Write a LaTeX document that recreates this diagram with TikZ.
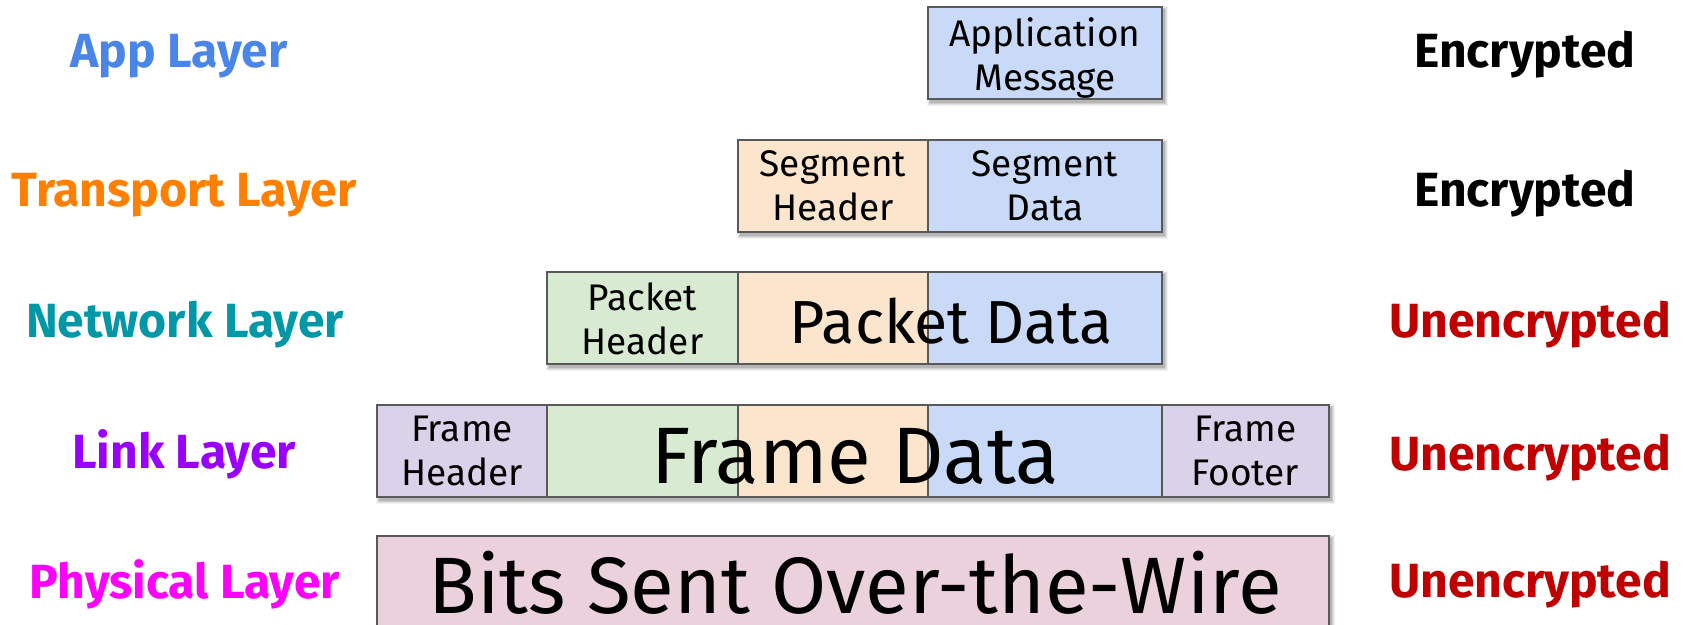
\documentclass[tikz,border=0pt]{standalone}
\usepackage{fontspec}
\setmainfont{Fira Sans}
\usetikzlibrary{calc,backgrounds}

\definecolor{boxblue}{HTML}{C9DAF8}
\definecolor{boxorange}{HTML}{FCE5CD}
\definecolor{boxgreen}{HTML}{D9EAD3}
\definecolor{boxpurple}{HTML}{D9D2E9}
\definecolor{boxpink}{HTML}{EAD1DC}
\definecolor{edgegray}{HTML}{595959}
\definecolor{appcol}{HTML}{4A86E8}
\definecolor{transcol}{HTML}{FF8000}
\definecolor{netcol}{HTML}{0097A7}
\definecolor{linkcol}{HTML}{9900FF}
\definecolor{physcol}{HTML}{FF00FF}
\definecolor{unenc}{HTML}{C00000}

% soft drop shadow under a row of cells, from its north west to its south east corner
\newcommand\rowshadow[2]{%
  \foreach \d/\o in {4/0.05,3/0.07,2/0.09,1/0.11}{%
    \fill[black,opacity=\o] ($(#1)+(4-\d,4-\d)$) rectangle ($(#2)+(1+\d,2+\d)$);
  }%
}

\begin{document}
\begin{tikzpicture}[x=0.5pt, y=-0.5pt,
  cell/.style={draw=edgegray, line width=1pt, inner sep=0pt, align=center,
    font=\fontsize{18.5}{22}\selectfont, text=black, minimum height=46pt},
  celltext/.style={inner sep=0pt, align=center, text=black,
    font=\fontsize{18.5}{22}\selectfont},
  layer/.style={anchor=base, font=\fontsize{24}{28}\selectfont\bfseries},
  status/.style={anchor=base, font=\fontsize{24}{28}\selectfont\bfseries},
  bigtext/.style={inner sep=0pt, text=black}
]
\useasboundingbox (0,0) rectangle (1686,625);

% application layer
\node[cell, fill=boxblue, minimum width=117pt] (app) at (1045,53) {};
\node[celltext] (apptext) at (1045,58) {Application\\Message};

% transport layer
\node[cell, fill=boxorange, minimum width=95pt] (seghdr) at (833,186) {Segment\\Header};
\node[cell, fill=boxblue, minimum width=117pt] (segdata) at (1045,186) {Segment\\Data};

% network layer
\node[cell, fill=boxgreen, minimum width=95.5pt] (pkthdr) at (642.5,318.5) {Packet\\Header};
\node[cell, fill=boxorange, minimum width=95pt] (pktseg) at (833,318.5) {};
\node[cell, fill=boxblue, minimum width=117pt] (pktapp) at (1045,318.5) {};
\node[bigtext, font=\fontsize{30.4}{34}\selectfont] (pktdata) at (951,321) {Packet Data};

% link layer
\node[cell, fill=boxpurple, minimum width=85pt] (frmhdr) at (462,451) {Frame\\Header};
\node[cell, fill=boxgreen, minimum width=95.5pt] (frmpkt) at (642.5,451) {};
\node[cell, fill=boxorange, minimum width=95pt] (frmseg) at (833,451) {};
\node[cell, fill=boxblue, minimum width=117pt] (frmapp) at (1045,451) {};
\node[cell, fill=boxpurple, minimum width=83.5pt] (frmftr) at (1245.5,451) {Frame\\Footer};
\node[bigtext, font=\fontsize{40}{44}\selectfont] (frmdata) at (855,456) {Frame Data};

% physical layer
\node[cell, fill=boxpink, minimum width=476pt] (bits) at (853,582) {};
\node[bigtext, font=\fontsize{40}{44}\selectfont] (bitstext) at (855,583) {Bits Sent Over-the-Wire};

% shadows behind each row
\begin{scope}[on background layer]
  \rowshadow{app.north west}{app.south east}
  \rowshadow{seghdr.north west}{segdata.south east}
  \rowshadow{pkthdr.north west}{pktapp.south east}
  \rowshadow{frmhdr.north west}{frmftr.south east}
  \rowshadow{bits.north west}{bits.south east}
\end{scope}

% layer names
\node[layer, text=appcol] (lapp) at (179,68) {App Layer};
\node[layer, text=transcol] (ltrans) at (184,207) {Transport Layer};
\node[layer, text=netcol] (lnet) at (185,338) {Network Layer};
\node[layer, text=linkcol] (llink) at (184,468) {Link Layer};
\node[layer, text=physcol] (lphys) at (185,598) {Physical Layer};

% encryption status
\node[status, text=black] (sapp) at (1525,68) {Encrypted};
\node[status, text=black] (strans) at (1525,207) {Encrypted};
\node[status, text=unenc] (snet) at (1530,338) {Unencrypted};
\node[status, text=unenc] (slink) at (1530,470) {Unencrypted};
\node[status, text=unenc] (sphys) at (1530,597) {Unencrypted};
\end{tikzpicture}
\end{document}
